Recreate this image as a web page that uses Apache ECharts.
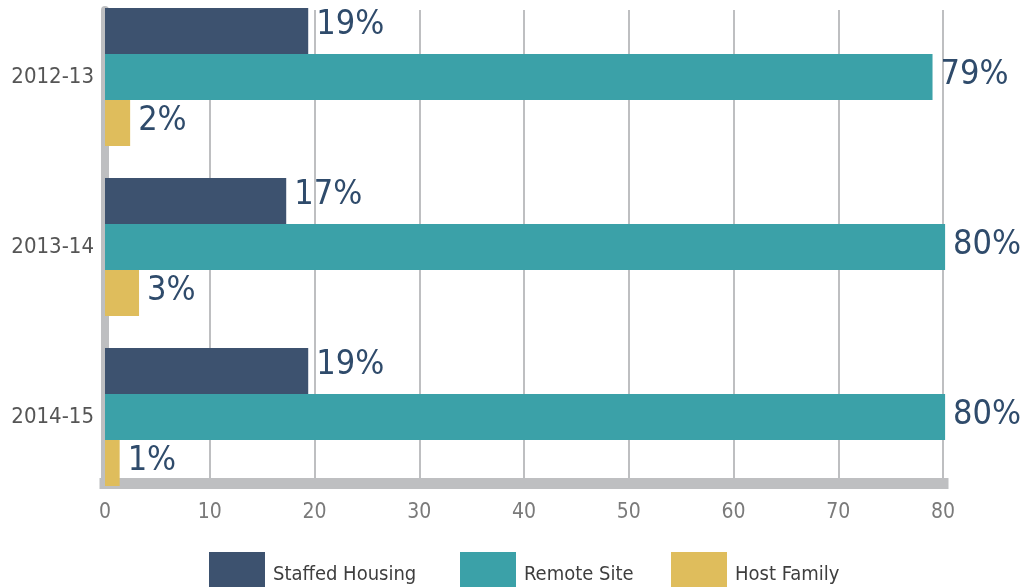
<!DOCTYPE html>
<html>
<head>
<meta charset="utf-8">
<title>Placement type by year</title>
<script src="https://cdn.jsdelivr.net/npm/echarts@6/dist/echarts.min.js"></script>
<style>
  html, body { margin: 0; padding: 0; background: #fff; }
  #chart_dom { width: 1020px; height: 587px; }
</style>
</head>
<body>
<div id="chart_dom"></div>
<script>
// 年份
const years = ['2012-13', '2013-14', '2014-15']
// 各类住宿的占比（按图中柱长读出）
const staffedHousing = [19.4, 17.3, 19.4]
const remoteSite = [79.0, 80.2, 80.2]
const hostFamily = [2.4, 3.25, 1.4]
// 横轴刻度
const xTicks = [0, 10, 20, 30, 40, 50, 60, 70, 80]

const seriesNames = ['Staffed Housing', 'Remote Site', 'Host Family']
const themeColor = ['#3d526f', '#3ba1a8', '#dfbd5c']
const axisGrey = '#bebfc1'
const narrowFont = "'DejaVu Sans Condensed', sans-serif"

function build() {
  let myChart = echarts.init(document.getElementById('chart_dom'))

  const valueLabel = (dy) => ({
    show: true,
    position: 'right',
    distance: 8,
    offset: [0, dy],
    fontFamily: narrowFont,
    fontSize: 34,
    color: '#2f4b6b',
    formatter: p => Math.round(p.value) + '%'
  })

  const legendAt = (name, left) => ({
    data: [name],
    left: left,
    top: 547,
    orient: 'horizontal',
    icon: 'rect',
    itemWidth: 56,
    itemHeight: 46,
    selectedMode: false,
    textStyle: {
      fontFamily: narrowFont,
      fontSize: 20,
      color: '#3e3e3e',
      padding: [0, 0, 0, 3]
    }
  })

  let option = {
    animation: false,
    color: themeColor,
    // 图例，三个分开摆放
    legend: [
      legendAt(seriesNames[0], 204),
      legendAt(seriesNames[1], 455),
      legendAt(seriesNames[2], 666)
    ],
    grid: [
      // 柱子所在的网格
      { left: 105, width: 838, top: -8, height: 510, containLabel: false, outerBoundsMode: 'none' },
      // 网格线与坐标轴
      { left: 105, width: 838, top: 10, height: 473, containLabel: false, outerBoundsMode: 'none' }
    ],
    xAxis: [
      { type: 'value', gridIndex: 0, min: 0, max: 80, show: false },
      {
        type: 'value',
        gridIndex: 1,
        min: xTicks[0],
        max: xTicks[xTicks.length - 1],
        interval: 10,
        axisLine: { show: true, lineStyle: { color: axisGrey, width: 11, cap: 'square' } },
        axisTick: { show: false },
        axisLabel: {
          margin: 19,
          fontFamily: narrowFont,
          fontSize: 21,
          color: '#7a7a7a',
          formatter: v => xTicks.includes(v) ? String(v) : ''
        },
        splitLine: { show: true, lineStyle: { color: axisGrey, width: 2 } }
      }
    ],
    yAxis: [
      {
        type: 'category',
        gridIndex: 0,
        data: years,
        inverse: true,
        axisLine: { show: false },
        axisTick: { show: false },
        axisLabel: {
          margin: 11,
          fontFamily: narrowFont,
          fontSize: 22,
          color: '#555555'
        }
      },
      {
        type: 'value',
        gridIndex: 1,
        min: 0,
        max: 1,
        offset: 1,
        axisLine: { show: true, lineStyle: { color: axisGrey, width: 8 } },
        axisTick: { show: false },
        axisLabel: { show: false },
        splitLine: { show: false }
      }
    ],
    series: [
      {
        name: seriesNames[0],
        type: 'bar',
        xAxisIndex: 0,
        yAxisIndex: 0,
        barGap: '0%',
        barCategoryGap: '18.8%',
        clip: false,
        label: valueLabel(-6),
        data: staffedHousing
      },
      {
        name: seriesNames[1],
        type: 'bar',
        xAxisIndex: 0,
        yAxisIndex: 0,
        barGap: '0%',
        barCategoryGap: '18.8%',
        clip: false,
        label: valueLabel(-2),
        data: remoteSite
      },
      {
        name: seriesNames[2],
        type: 'bar',
        xAxisIndex: 0,
        yAxisIndex: 0,
        barGap: '0%',
        barCategoryGap: '18.8%',
        clip: false,
        label: valueLabel(-2),
        data: hostFamily
      }
    ]
  }

  option && myChart.setOption(option)
}

build()
</script>
</body>
</html>
